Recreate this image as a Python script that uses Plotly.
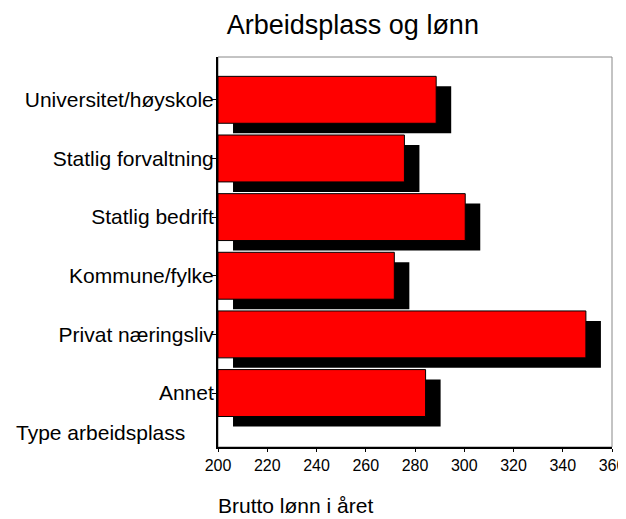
import plotly.graph_objects as go

# data
categories = ["Universitet/høyskole", "Statlig forvaltning", "Statlig bedrift",
              "Kommune/fylke", "Privat næringsliv", "Annet"]
lonn = [288.6, 275.7, 300.4, 271.6, 349.4, 284.3]
x_ticks = [200, 220, 240, 260, 280, 300, 320, 340, 360]

base = 200
shadow_dx = 6.1    # shadow offset in x units
shadow_dy = 0.17   # shadow offset in category units

pos = list(range(len(categories)))

fig = go.Figure()

# drop shadow behind each bar
fig.add_trace(go.Bar(
    y=[p + shadow_dy for p in pos],
    x=[v - base for v in lonn],
    base=base + shadow_dx,
    orientation="h",
    width=0.8,
    marker=dict(color="black", line=dict(width=0)),
    hoverinfo="skip",
    showlegend=False,
))

fig.add_trace(go.Bar(
    y=pos,
    x=[v - base for v in lonn],
    base=base,
    orientation="h",
    width=0.8,
    marker=dict(color="#ff0000", line=dict(color="black", width=1)),
    customdata=categories,
    hovertemplate="%{customdata}: %{x}<extra></extra>",
    showlegend=False,
))

fig.update_layout(
    width=618,
    height=511,
    margin=dict(l=210, r=14, t=49, b=72),
    paper_bgcolor="white",
    plot_bgcolor="white",
    barmode="overlay",
    font=dict(family="Liberation Sans, Arial, sans-serif", color="black"),
    title=dict(text="Arbeidsplass og lønn", x=0.558, xanchor="center",
               y=0.967, yanchor="middle", font=dict(size=27)),
    xaxis=dict(
        range=[200, 360],
        tickvals=x_ticks,
        ticks="outside", ticklen=3, tickcolor="black",
        tickfont=dict(size=16),
        showgrid=False, zeroline=False,
        showline=True, linecolor="black", linewidth=2,
        automargin=False,
    ),
    yaxis=dict(
        range=[5.92, -0.73],
        tickvals=pos,
        ticktext=categories,
        ticks="outside", ticklen=4, tickcolor="black",
        tickfont=dict(size=21),
        ticklabelstandoff=-6,
        showgrid=False, zeroline=False,
        showline=True, linecolor="black", linewidth=2,
        automargin=False,
    ),
    shapes=[dict(type="rect", xref="paper", yref="paper", x0=0, x1=1, y0=0, y1=1,
                 line=dict(color="#888888", width=1), layer="below")],
    annotations=[
        dict(text="Type arbeidsplass", xref="paper", yref="paper",
             x=-0.519, y=0.036, xanchor="left", yanchor="middle",
             showarrow=False, font=dict(size=21)),
        dict(text="Brutto lønn i året", xref="paper", yref="paper",
             x=-0.006, y=-0.151, xanchor="left", yanchor="middle",
             showarrow=False, font=dict(size=21)),
    ],
)

fig.write_html("out.html")
